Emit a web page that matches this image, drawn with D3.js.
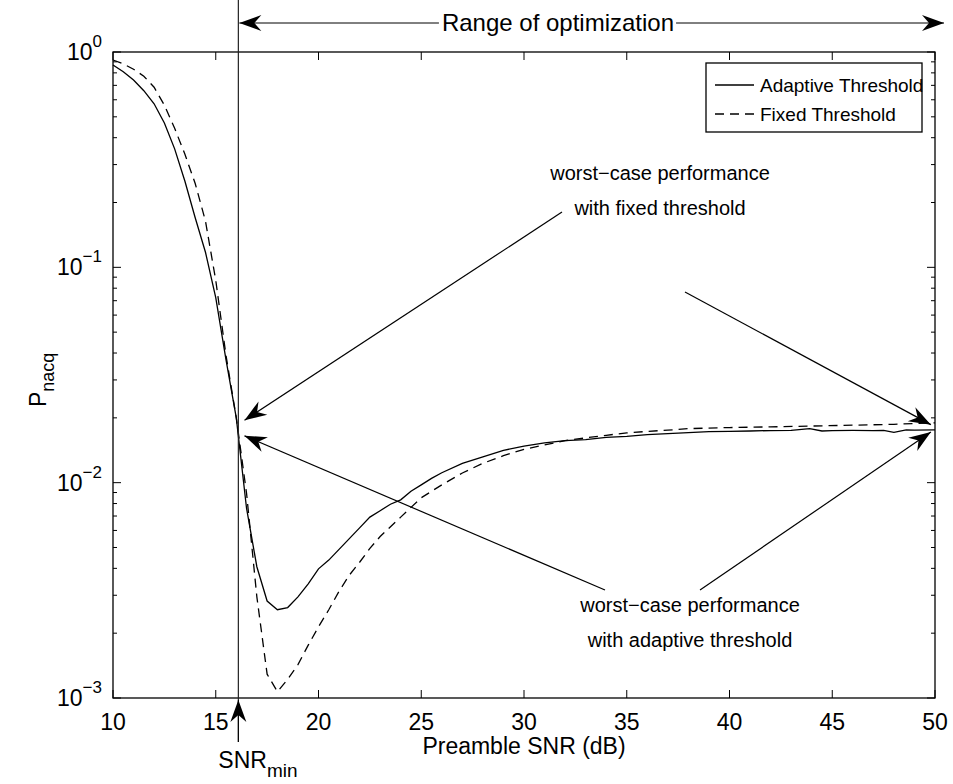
<!DOCTYPE html>
<html>
<head>
<meta charset="utf-8">
<script src="https://cdn.jsdelivr.net/npm/d3@7"></script>
<style>
  html, body { margin: 0; padding: 0; background: #fff; }
  svg text { font-family: "Liberation Sans", Arial, Helvetica, sans-serif; fill: #000; }
</style>
</head>
<body>
<svg id="chart" width="953" height="784"></svg>
<script>
// ---------------- data ----------------
const adaptiveSNR = [10, 10.5, 11, 11.5, 12, 12.5, 13, 13.5, 14, 14.5, 15, 15.5, 16, 16.5, 17, 17.5, 18, 18.5, 19, 19.5, 20, 20.5, 21, 21.5, 22, 22.5, 23, 23.5, 24, 24.5, 25, 25.5, 26, 27, 28, 29, 30, 31, 32, 33, 34, 35, 36, 37, 38, 39, 40, 41, 42, 43, 43.9, 44.5, 45, 46, 47, 47.5, 48, 48.6, 49, 50];
const adaptiveP = [0.871, 0.809, 0.741, 0.661, 0.575, 0.468, 0.355, 0.251, 0.170, 0.1175, 0.0724, 0.0372, 0.0200, 0.00759, 0.00407, 0.00282, 0.00257, 0.00263, 0.00295, 0.00339, 0.00398, 0.00437, 0.00490, 0.00550, 0.00617, 0.00692, 0.00741, 0.00794, 0.00832, 0.00912, 0.00977, 0.01047, 0.01112, 0.01230, 0.01318, 0.01413, 0.01479, 0.01531, 0.01567, 0.01585, 0.01622, 0.01641, 0.01671, 0.01690, 0.01706, 0.01726, 0.01730, 0.01738, 0.01746, 0.01750, 0.01782, 0.01738, 0.01746, 0.01750, 0.01746, 0.01750, 0.01714, 0.01758, 0.01754, 0.01758];

const fixedSNR = [10, 10.5, 11, 11.5, 12, 12.5, 13, 13.5, 14, 14.5, 15, 15.5, 16, 16.5, 17, 17.5, 18, 18.5, 19, 19.5, 20, 20.5, 21, 21.5, 22, 22.5, 23, 24, 25, 26, 27, 28, 29, 30, 31, 32, 33, 34, 35, 36, 37, 38, 40, 42, 44, 46, 48, 50];
const fixedP = [0.918, 0.881, 0.832, 0.772, 0.686, 0.566, 0.442, 0.335, 0.245, 0.164, 0.0871, 0.0389, 0.0200, 0.00891, 0.00295, 0.00129, 0.00107, 0.00122, 0.00143, 0.00176, 0.00214, 0.00257, 0.00313, 0.00372, 0.00427, 0.00495, 0.00562, 0.00692, 0.00851, 0.00977, 0.01109, 0.01230, 0.01334, 0.01429, 0.01496, 0.01567, 0.01614, 0.01660, 0.01702, 0.01730, 0.01754, 0.01782, 0.01803, 0.01816, 0.01832, 0.01849, 0.01866, 0.01897];

const xTicks = [10, 15, 20, 25, 30, 35, 40, 45, 50];
const yTickExponents = [0, -1, -2, -3];
const seriesNames = ["Adaptive Threshold", "Fixed Threshold"];
const snrMin = 16.1;
const rangeLabel = "Range of optimization";
const xLabel = "Preamble SNR (dB)";
const annFixed = ["worst\u2212case performance", "with fixed threshold"];
const annAdaptive = ["worst\u2212case performance", "with adaptive threshold"];

// ---------------- layout ----------------
const M = { left: 113, right: 935, top: 52, bottom: 698 };
const AFS = 23;   // axes font size
const TFS = 20;   // annotation font size
const LFS = 19;   // legend font size
const svg = d3.select("#chart");

const x = d3.scaleLinear().domain([10, 50]).range([M.left, M.right]);
const y = d3.scaleLog().domain([1e-3, 1]).range([M.bottom, M.top]);

// arrowhead marker
const defs = svg.append("defs");
defs.append("marker")
  .attr("id", "ah").attr("viewBox", "-24 -9 26 18")
  .attr("refX", 0).attr("refY", 0)
  .attr("markerWidth", 26).attr("markerHeight", 18)
  .attr("markerUnits", "userSpaceOnUse")
  .attr("orient", "auto")
  .append("path").attr("d", "M0,0 L-22,-8 L-15,0 L-22,8 Z").attr("fill", "#000");

// ---------------- axes box ----------------
const g = svg.append("g");
g.append("rect").attr("x", M.left).attr("y", M.top)
  .attr("width", M.right - M.left).attr("height", M.bottom - M.top)
  .attr("fill", "none").attr("stroke", "#000").attr("stroke-width", 1.3);

// x ticks (inward, top & bottom)
xTicks.forEach(t => {
  const px = x(t);
  g.append("line").attr("x1", px).attr("x2", px).attr("y1", M.bottom).attr("y2", M.bottom - 8).attr("stroke", "#000");
  g.append("line").attr("x1", px).attr("x2", px).attr("y1", M.top).attr("y2", M.top + 8).attr("stroke", "#000");
  g.append("text").attr("x", px).attr("y", M.bottom + 32).attr("text-anchor", "middle")
    .attr("font-size", AFS).text(t);
});

// y ticks: majors and minors
yTickExponents.forEach(e => {
  const py = y(Math.pow(10, e));
  g.append("line").attr("x1", M.left).attr("x2", M.left + 8).attr("y1", py).attr("y2", py).attr("stroke", "#000");
  g.append("line").attr("x1", M.right).attr("x2", M.right - 8).attr("y1", py).attr("y2", py).attr("stroke", "#000");
  const tx = g.append("text").attr("x", M.left - 11).attr("y", py + 8).attr("text-anchor", "end").attr("font-size", AFS);
  tx.append("tspan").text("10");
  tx.append("tspan").attr("dy", -13).attr("font-size", AFS - 6).text(e === 0 ? "0" : "\u2212" + (-e));
  if (e > -3) {
    for (let k = 2; k <= 9; k++) {
      const v = k * Math.pow(10, e - 1);
      const pm = y(v);
      g.append("line").attr("x1", M.left).attr("x2", M.left + 4).attr("y1", pm).attr("y2", pm).attr("stroke", "#000");
      g.append("line").attr("x1", M.right).attr("x2", M.right - 4).attr("y1", pm).attr("y2", pm).attr("stroke", "#000");
    }
  }
});

// axis labels
g.append("text").attr("x", (M.left + M.right) / 2).attr("y", M.bottom + 56).attr("text-anchor", "middle")
  .attr("font-size", AFS).text(xLabel);
const yl = g.append("text").attr("transform", `translate(46,${(M.top + M.bottom) / 2 + 32}) rotate(-90)`)
  .attr("font-size", AFS);
yl.append("tspan").text("P");
yl.append("tspan").attr("dy", 8).attr("font-size", AFS - 5).text("nacq");

// ---------------- curves ----------------
const line = d3.line().x(d => x(d[0])).y(d => y(d[1]));
const adaptive = adaptiveSNR.map((s, i) => [s, adaptiveP[i]]);
const fixed = fixedSNR.map((s, i) => [s, fixedP[i]]);
g.append("path").attr("d", line(adaptive)).attr("fill", "none").attr("stroke", "#000").attr("stroke-width", 1.3);
g.append("path").attr("d", line(fixed)).attr("fill", "none").attr("stroke", "#000").attr("stroke-width", 1.3)
  .attr("stroke-dasharray", "9,6");

// ---------------- SNRmin vertical line ----------------
const xs = x(snrMin);
g.append("line").attr("x1", xs).attr("x2", xs).attr("y1", 0).attr("y2", 742).attr("stroke", "#222").attr("stroke-width", 1.2);
g.append("line").attr("x1", xs).attr("x2", xs).attr("y1", 742).attr("y2", M.bottom + 2)
  .attr("stroke", "#000").attr("marker-end", "url(#ah)");
const st = g.append("text").attr("x", xs - 20).attr("y", 768).attr("font-size", AFS);
st.append("tspan").text("SNR");
st.append("tspan").attr("dy", 9).attr("font-size", AFS - 4).text("min");

// ---------------- range of optimization ----------------
const ry = 23;
const rt = g.append("text").attr("x", 558).attr("y", ry + 8).attr("text-anchor", "middle").attr("font-size", AFS + 1).text(rangeLabel);
const rb = rt.node().getBBox();
g.append("line").attr("x1", rb.x - 3).attr("x2", xs + 1).attr("y1", ry).attr("y2", ry).attr("stroke", "#000").attr("marker-end", "url(#ah)");
g.append("line").attr("x1", rb.x + rb.width + 2).attr("x2", 944).attr("y1", ry).attr("y2", ry).attr("stroke", "#000").attr("marker-end", "url(#ah)");

// ---------------- annotations ----------------
function textBlock(lines, cx, y0) {
  lines.forEach((s, i) => {
    g.append("text").attr("x", cx).attr("y", y0 + i * 35).attr("text-anchor", "middle").attr("font-size", TFS).text(s);
  });
}
textBlock(annFixed, 660, 180);
textBlock(annAdaptive, 690, 612);

function arrow(x1, y1, x2, y2) {
  g.append("line").attr("x1", x1).attr("y1", y1).attr("x2", x2).attr("y2", y2)
    .attr("stroke", "#000").attr("stroke-width", 1.2).attr("marker-end", "url(#ah)");
}
// fixed threshold worst-case points
arrow(562, 212, x(16.4), y(0.0195));
arrow(685, 292, x(49.8), y(0.0186));
// adaptive threshold worst-case points
arrow(605, 590, x(16.4), y(0.0165));
arrow(700, 590, x(49.8), y(0.0172));

// legend
const lg = svg.append("g");
const lx0 = 706, ly0 = 63, lw = 216, lh = 69;
lg.append("rect").attr("x", lx0).attr("y", ly0).attr("width", lw).attr("height", lh)
  .attr("fill", "#fff").attr("stroke", "#000").attr("stroke-width", 1.3);
seriesNames.forEach((n, i) => {
  const yy = ly0 + 22 + i * 29;
  lg.append("line").attr("x1", lx0 + 9).attr("x2", lx0 + 48).attr("y1", yy).attr("y2", yy)
    .attr("stroke", "#000").attr("stroke-width", 1.3).attr("stroke-dasharray", i === 1 ? "9,6" : null);
  lg.append("text").attr("x", lx0 + 54).attr("y", yy + 7).attr("font-size", LFS).text(n);
});
</script>
</body>
</html>
